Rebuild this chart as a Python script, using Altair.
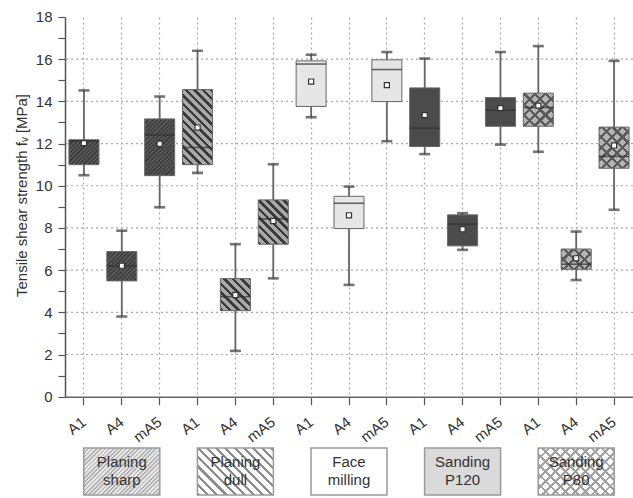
import math
import altair as alt

# ---------------- data ----------------
groups = ["Planing sharp", "Planing dull", "Face milling", "Sanding P120", "Sanding P80"]
group_lines = [["Planing", "sharp"], ["Planing", "dull"], ["Face", "milling"],
               ["Sanding", "P120"], ["Sanding", "P80"]]
sub_labels = ["A1", "A4", "mA5"]

whisker_low = [10.50, 3.80, 8.98, 10.61, 2.17, 5.61, 13.25, 5.30, 12.11, 11.50, 6.96, 11.95, 11.61, 5.53, 8.86]
q1 = [11.00, 5.49, 10.48, 11.00, 4.08, 7.23, 13.76, 7.97, 13.99, 11.86, 7.15, 12.82, 12.82, 6.04, 10.83]
median = [12.12, 6.21, 12.41, 11.81, 4.74, 8.43, 15.77, 9.17, 15.51, 12.73, 8.18, 13.58, 13.71, 6.28, 11.39]
q3 = [12.18, 6.88, 13.17, 14.56, 5.60, 9.33, 15.92, 9.50, 15.97, 14.64, 8.62, 14.18, 14.39, 7.00, 12.78]
whisker_high = [14.52, 7.87, 14.23, 16.40, 7.23, 11.02, 16.21, 9.96, 16.34, 16.03, 8.70, 16.34, 16.62, 7.83, 15.92]
mean = [12.02, 6.21, 11.99, 12.76, 4.82, 8.33, 14.94, 8.60, 14.77, 13.35, 7.94, 13.68, 13.80, 6.56, 11.91]

grid_values = [2, 4, 6, 8, 10, 12, 14, 16]

# ---------------- layout ----------------
W = 568
H = 379.7
Y_MAX = 18
BOX_W = 30
LEG_W = 76
LEG_H = 47
PX_PER_UNIT = H / Y_MAX
FONT = "Liberation Sans"


def hatch(w, h, period, duty, line, bg, direction):
    """Striped linear gradient giving 45 degree hatching inside a w x h box."""
    r = h / w
    k = (1 + r) / (1 + r * r)
    if direction == "/":
        g = {"gradient": "linear", "x1": 0, "y1": 0, "x2": round(k, 5), "y2": round(k * r, 5)}
    else:
        g = {"gradient": "linear", "x1": 0, "y1": 1, "x2": round(k, 5), "y2": round(1 - k * r, 5)}
    dist = (w + h) / math.sqrt(2)
    stops = []
    i = 0
    while i * period / dist <= 1:
        a = i * period / dist
        b = min((i + duty) * period / dist, 1)
        c = min((i + 1) * period / dist, 1)
        stops += [{"offset": round(a, 5), "color": line}, {"offset": round(b, 5), "color": line},
                  {"offset": round(b, 5), "color": bg}, {"offset": round(c, 5), "color": bg}]
        i += 1
    g["stops"] = stops
    return g


def box_fill(gi, w, h):
    if gi == 0:
        return hatch(w, h, 3.0, 0.5, "#3e3e3e", "#585858", "/"), "transparent"
    if gi == 1:
        return hatch(w, h, 6.0, 0.42, "#3a3a3a", "#a8a8a8", "\\"), "transparent"
    if gi == 2:
        return "#e6e6e6", "transparent"
    if gi == 3:
        return "#4b4b4b", "transparent"
    return (hatch(w, h, 7.5, 0.3, "#5a5a5a", "#b4b4b4", "/"),
            hatch(w, h, 7.5, 0.3, "#5a5a5a", "rgba(0,0,0,0)", "\\"))


def legend_fill(gi, w, h):
    if gi == 0:
        return hatch(w, h, 3.0, 0.4, "#b0b0b0", "#e4e4e4", "/"), "transparent"
    if gi == 1:
        return hatch(w, h, 6.5, 0.33, "#8c8c8c", "#ffffff", "\\"), "transparent"
    if gi == 2:
        return "#ffffff", "transparent"
    if gi == 3:
        return "#dadada", "transparent"
    return (hatch(w, h, 7.0, 0.28, "#a0a0a0", "#ffffff", "/"),
            hatch(w, h, 7.0, 0.28, "#a0a0a0", "rgba(0,0,0,0)", "\\"))


keys = [f"{g}|{s}" for g in groups for s in sub_labels]

box_records = []
for i, key in enumerate(keys):
    gi = i // 3
    h_px = (q3[i] - q1[i]) * PX_PER_UNIT
    f1, f2 = box_fill(gi, BOX_W, h_px)
    box_records.append({
        "key": key, "lo": whisker_low[i], "q1": q1[i], "med": median[i],
        "q3": q3[i], "hi": whisker_high[i], "mean": mean[i],
        "grad": f1, "grad2": f2,
    })

legend_records = []
for gi, g in enumerate(groups):
    f1, f2 = legend_fill(gi, LEG_W, LEG_H)
    legend_records.append({"key": f"{g}|A4", "lines": group_lines[gi], "grad": f1, "grad2": f2})

box_data = alt.Data(values=box_records)
legend_data = alt.Data(values=legend_records)
grid_data = alt.Data(values=[{"v": v} for v in grid_values])

# ---------------- encodings ----------------
x_enc = alt.X(
    "key:N", sort=keys, title=None,
    scale=alt.Scale(domain=keys, paddingInner=0, paddingOuter=0),
    axis=alt.Axis(
        labelExpr="split(datum.label, '|')[1]",
        labelAngle=-38, labelAlign="right", labelBaseline="middle",
        labelFont=FONT, labelFontSize=15, labelColor="#333333", labelPadding=15,
        tickSize=8, tickColor="#555555", tickWidth=1.2,
        domainColor="#666666", domainWidth=1.5,
        grid=True, gridColor="#a8a8a8", gridDash=[2, 3], gridWidth=1.2,
        bandPosition=0.5,
    ),
)

y_scale = alt.Scale(domain=[0, Y_MAX], nice=False, zero=True)
y_axis = alt.Axis(
    values=list(range(0, Y_MAX + 1)),
    labelExpr="datum.value % 2 == 0 ? datum.label : ''",
    labelFont=FONT, labelFontSize=15, labelColor="#333333", labelPadding=6,
    tickSize=7, tickColor="#555555", tickWidth=1.2,
    domainColor="#555555", domainWidth=1.5, grid=False,
    title="Tensile shear strength f\u1d65  [MPa]",
    titleFont=FONT, titleFontSize=15, titleFontWeight="normal", titleColor="#333333",
    titlePadding=6, titleY=178,
)

grid = alt.Chart(grid_data).mark_rule(color="#a8a8a8", strokeDash=[2, 3], strokeWidth=1.2).encode(
    y=alt.Y("v:Q", scale=y_scale, axis=y_axis)
)

base = alt.Chart(box_data)

whisk = base.mark_rule(color="#666666", strokeWidth=1.8).encode(
    x=x_enc, y=alt.Y("lo:Q", scale=y_scale, axis=y_axis), y2=alt.Y2("hi:Q")
)

box_fill_layer = base.mark_bar(size=BOX_W, strokeWidth=0).encode(
    x=x_enc, y=alt.Y("q1:Q", scale=y_scale, axis=y_axis), y2=alt.Y2("q3:Q"),
    fill=alt.Fill(field="grad", type="nominal", scale=None),
)
box_fill2_layer = base.mark_bar(size=BOX_W, strokeWidth=0).encode(
    x=x_enc, y=alt.Y("q1:Q", scale=y_scale, axis=y_axis), y2=alt.Y2("q3:Q"),
    fill=alt.Fill(field="grad2", type="nominal", scale=None),
)
box_outline = base.mark_bar(size=BOX_W, fill="white", fillOpacity=0, stroke="#666666", strokeWidth=1).encode(
    x=x_enc, y=alt.Y("q1:Q", scale=y_scale, axis=y_axis), y2=alt.Y2("q3:Q")
)

med = base.mark_tick(size=BOX_W, thickness=1.6, color="#2e2e2e", orient="horizontal").encode(
    x=x_enc, y=alt.Y("med:Q", scale=y_scale, axis=y_axis)
)

cap_lo = base.mark_tick(size=11, thickness=2.6, color="#3a3a3a", orient="horizontal").encode(
    x=x_enc, y=alt.Y("lo:Q", scale=y_scale, axis=y_axis)
)
cap_hi = base.mark_tick(size=11, thickness=2.6, color="#3a3a3a", orient="horizontal").encode(
    x=x_enc, y=alt.Y("hi:Q", scale=y_scale, axis=y_axis)
)

mean_pt = base.mark_point(shape="square", size=26, filled=True, fill="white", stroke="#333333",
                          strokeWidth=1.2, opacity=1).encode(
    x=x_enc, y=alt.Y("mean:Q", scale=y_scale, axis=y_axis)
)

leg = alt.Chart(legend_data)
leg_top = 431
leg_fill1 = leg.mark_bar(size=LEG_W, strokeWidth=0).encode(
    x=x_enc, y=alt.value(leg_top), y2=alt.value(leg_top + LEG_H),
    fill=alt.Fill(field="grad", type="nominal", scale=None),
)
leg_fill2 = leg.mark_bar(size=LEG_W, strokeWidth=0).encode(
    x=x_enc, y=alt.value(leg_top), y2=alt.value(leg_top + LEG_H),
    fill=alt.Fill(field="grad2", type="nominal", scale=None),
)
leg_outline = leg.mark_bar(size=LEG_W, fill="white", fillOpacity=0, stroke="#9a9a9a", strokeWidth=1.5).encode(
    x=x_enc, y=alt.value(leg_top), y2=alt.value(leg_top + LEG_H)
)
leg_text = leg.mark_text(font=FONT, fontSize=15, color="#333333", baseline="middle",
                         align="center", lineHeight=18.5).encode(
    x=x_enc, y=alt.value(leg_top + 14), text=alt.Text("lines:N")
)

chart = alt.layer(
    grid, whisk, box_fill_layer, box_fill2_layer, box_outline, med, cap_lo, cap_hi, mean_pt,
    leg_fill1, leg_fill2, leg_outline, leg_text,
).properties(
    width=W, height=H,
    autosize=alt.AutoSizeParams(type="none"),
    padding={"left": 65, "top": 17, "right": 0, "bottom": 101},
    background="white",
).configure_view(stroke=None)

chart.save("out.html", embed_options={"renderer": "svg", "actions": False})
